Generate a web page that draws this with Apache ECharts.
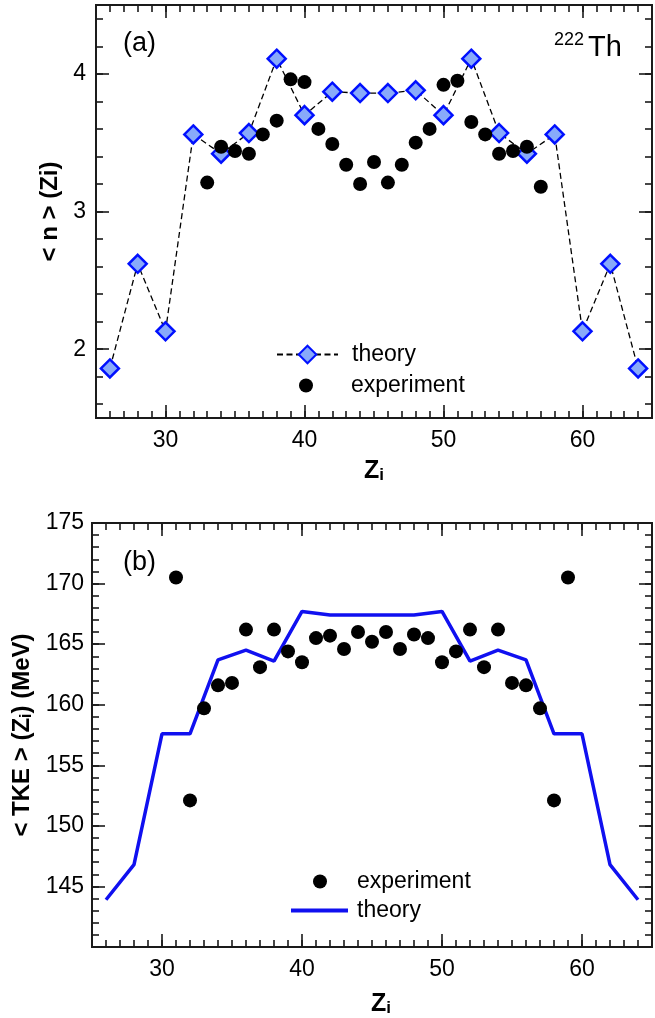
<!DOCTYPE html>
<html>
<head>
<meta charset="utf-8">
<script src="https://cdn.jsdelivr.net/npm/echarts@6/dist/echarts.min.js"></script>
<style>
html,body{margin:0;padding:0;background:#fff;}
#chart{width:655px;height:1018px;}
</style>
</head>
<body>
<div id="chart"></div>
<script>
// ---------- data ----------
// panel (a): <n>(Zi)
const zTheoryN = [26, 28, 30, 32, 34, 36, 38, 40, 42, 44, 46, 48, 50, 52, 54, 56, 58, 60, 62, 64];
const nTheory  = [1.86, 2.62, 2.13, 3.56, 3.42, 3.57, 4.11, 3.70, 3.87, 3.86, 3.86, 3.88, 3.70, 4.11, 3.57, 3.42, 3.56, 2.13, 2.62, 1.86];
const zExpN    = [33, 34, 35, 36, 37, 38, 39, 40, 41, 42, 43, 44, 45, 46, 47, 48, 49, 50, 51, 52, 53, 54, 55, 56, 57];
const nExp     = [3.21, 3.47, 3.44, 3.42, 3.56, 3.66, 3.96, 3.94, 3.60, 3.49, 3.34, 3.20, 3.36, 3.21, 3.34, 3.50, 3.60, 3.92, 3.95, 3.65, 3.56, 3.42, 3.44, 3.47, 3.18];
// panel (b): <TKE>(Zi)
const zTheoryT = [26, 28, 30, 32, 34, 36, 38, 40, 42, 44, 46, 48, 50, 52, 54, 56, 58, 60, 62, 64];
const tkeTheory = [143.9, 146.8, 157.6, 157.6, 163.7, 164.5, 163.6, 167.7, 167.4, 167.4, 167.4, 167.4, 167.7, 163.6, 164.5, 163.7, 157.6, 157.6, 146.8, 143.9];
const zExpT    = [31, 32, 33, 34, 35, 36, 37, 38, 39, 40, 41, 42, 43, 44, 45, 46, 47, 48, 49, 50, 51, 52, 53, 54, 55, 56, 57, 58, 59];
const tkeExp   = [170.5, 152.1, 159.7, 161.6, 161.8, 166.2, 163.1, 166.2, 164.4, 163.5, 165.5, 165.7, 164.6, 166.0, 165.2, 166.0, 164.6, 165.8, 165.5, 163.5, 164.4, 166.2, 163.1, 166.2, 161.8, 161.6, 159.7, 152.1, 170.5];
// ticks
const zMajorTicks = [30, 40, 50, 60];
const nMajorTicks = [2, 3, 4];
const tkeMajorTicks = [145, 150, 155, 160, 165, 170, 175];
const zRange = [25, 65];
const nRange = [1.5, 4.5];
const tkeRange = [140, 175];

function range(a, b, step) { const out = []; for (let v = a; v <= b + 1e-9; v += step) out.push(Math.round(v * 1000) / 1000); return out; }
const zMinorTicks = range(26, 64, 1);
const nMinorTicks = range(1.6, 4.4, 0.2);
const tkeMinorTicks = range(141, 174, 1);

const FONT = 'Liberation Sans';
const AX = '#1a1a1a';

function axis(grid, pos, rng, ticks, major, extra) {
  const a = {
    type: 'value', gridIndex: grid, position: pos, min: rng[0], max: rng[1],
    axisLine: { show: true, onZero: false, lineStyle: { color: AX, width: 1.8 } },
    axisTick: { show: true, inside: true, length: major ? 13 : 7, customValues: ticks, lineStyle: { color: AX, width: 1.6 } },
    axisLabel: { show: false },
    splitLine: { show: false },
    splitArea: { show: false }
  };
  return Object.assign(a, extra || {});
}
function labelCfg(vals, margin) {
  return { show: true, customValues: vals, margin: margin, color: '#000', fontFamily: FONT, fontSize: 23 };
}
const zRich = {
  z: { fontFamily: FONT, fontWeight: 'bold', fontSize: 25, lineHeight: 30, color: '#000', verticalAlign: 'bottom' },
  i: { fontFamily: FONT, fontWeight: 'bold', fontSize: 17, lineHeight: 22, color: '#000', verticalAlign: 'bottom' }
};

const xAxes = [
  axis(0, 'bottom', zRange, zMinorTicks, false),
  axis(0, 'bottom', zRange, zMajorTicks, true, {
    axisLabel: labelCfg(zMajorTicks, 11),
    name: '{z|Z}{i|i}', nameLocation: 'middle', nameGap: 36,
    nameTextStyle: { rich: zRich }
  }),
  axis(0, 'top', zRange, zMinorTicks, false),
  axis(0, 'top', zRange, zMajorTicks, true),
  axis(1, 'bottom', zRange, zMinorTicks, false),
  axis(1, 'bottom', zRange, zMajorTicks, true, {
    axisLabel: labelCfg(zMajorTicks, 11),
    name: '{z|Z}{i|i}', nameLocation: 'middle', nameGap: 40,
    nameTextStyle: { padding: [0, 0, 0, 18], rich: zRich }
  }),
  axis(1, 'top', zRange, zMinorTicks, false),
  axis(1, 'top', zRange, zMajorTicks, true)
];

const yAxes = [
  axis(0, 'left', nRange, nMinorTicks, false),
  axis(0, 'left', nRange, nMajorTicks, true, {
    axisLabel: labelCfg(nMajorTicks, 10),
    name: '< n > (Zi)', nameLocation: 'middle', nameGap: 33, nameRotate: 90,
    nameTextStyle: { fontFamily: FONT, fontWeight: 'bold', fontSize: 24, color: '#000' }
  }),
  axis(0, 'right', nRange, nMinorTicks, false),
  axis(0, 'right', nRange, nMajorTicks, true),
  axis(1, 'left', tkeRange, tkeMinorTicks, false),
  axis(1, 'left', tkeRange, tkeMajorTicks, true, {
    axisLabel: labelCfg(tkeMajorTicks, 8),
    name: '{b|< TKE > (Z}{i|i}{b|) (MeV)}', nameLocation: 'middle', nameGap: 57, nameRotate: 90,
    nameTextStyle: { rich: {
      b: { fontFamily: FONT, fontWeight: 'bold', fontSize: 24, lineHeight: 28, color: '#000', verticalAlign: 'bottom' },
      i: { fontFamily: FONT, fontWeight: 'bold', fontSize: 16, lineHeight: 21, color: '#000', verticalAlign: 'bottom' } } }
  }),
  axis(1, 'right', tkeRange, tkeMinorTicks, false),
  axis(1, 'right', tkeRange, tkeMajorTicks, true)
];

const legendNames = { thA: 'theory', exA: 'experiment', exB: 'experiment', thB: 'theory' };
function legend(name, left, top, w, h, pad, icon) {
  const d = { name: name };
  if (icon) d.icon = icon;
  return { data: [d], orient: 'vertical', left: left, top: top, padding: 0, itemWidth: w, itemHeight: h,
    formatter: n => legendNames[n], selectedMode: false,
    textStyle: { fontFamily: FONT, fontSize: 23, color: '#000', padding: [0, 0, 0, pad] } };
}

const option = {
  animation: false,
  backgroundColor: '#fff',
  grid: [
    { left: 96, right: 3, top: 5, height: 413, outerBoundsMode: 'none', containLabel: false },
    { left: 92, right: 3, top: 523, height: 424, outerBoundsMode: 'none', containLabel: false }
  ],
  xAxis: xAxes,
  yAxis: yAxes,
  legend: [
    legend('thA', 276, 343, 61, 22, 9),
    legend('exA', 299, 374, 14, 14, 33, 'circle'),
    legend('exB', 313, 870, 14, 14, 25, 'circle'),
    legend('thB', 291, 899, 57, 14, 4, 'path://M0,0L57,0L57,4L0,4Z')
  ],
  graphic: [
    { type: 'text', left: 123, top: 30, style: { text: '(a)', font: '27px "Liberation Sans"', fill: '#000' } },
    { type: 'text', left: 123, top: 549, style: { text: '(b)', font: '27px "Liberation Sans"', fill: '#000' } },
    { type: 'text', left: 554, top: 31, style: { text: '222', font: '18px "Liberation Sans"', fill: '#000' } },
    { type: 'text', left: 588, top: 33, style: { text: 'Th', font: '29px "Liberation Sans"', fill: '#000' } }
  ],
  series: [
    { name: 'thA', type: 'line', xAxisIndex: 0, yAxisIndex: 0,
      data: zTheoryN.map((z, i) => [z, nTheory[i]]),
      symbol: 'diamond', symbolSize: 18, showAllSymbol: true,
      itemStyle: { color: '#88aafa', borderColor: '#0010ff', borderWidth: 2.5 },
      lineStyle: { color: '#000', width: 1.3, type: [6, 3.5] }, z: 2 },
    { name: 'exA', type: 'scatter', xAxisIndex: 0, yAxisIndex: 0,
      data: zExpN.map((z, i) => [z, nExp[i]]),
      symbol: 'circle', symbolSize: 14, itemStyle: { color: '#000', opacity: 1 }, z: 3 },
    { name: 'exB', type: 'scatter', xAxisIndex: 4, yAxisIndex: 4,
      data: zExpT.map((z, i) => [z, tkeExp[i]]),
      symbol: 'circle', symbolSize: 14, itemStyle: { color: '#000', opacity: 1 }, z: 3 },
    { name: 'thB', type: 'line', xAxisIndex: 4, yAxisIndex: 4,
      data: zTheoryT.map((z, i) => [z, tkeTheory[i]]),
      symbol: 'none', itemStyle: { color: '#1010f0' },
      lineStyle: { color: '#1010f0', width: 3.5 }, z: 2 }
  ]
};

const chart = echarts.init(document.getElementById('chart'), null, { renderer: 'canvas' });
chart.setOption(option);
</script>
</body>
</html>
